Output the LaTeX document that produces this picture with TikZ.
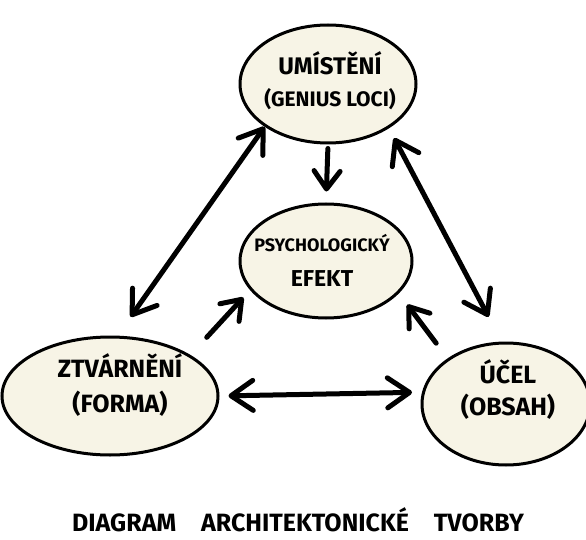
\documentclass[tikz,border=0pt]{standalone}
\usepackage{fontspec}
\setmainfont{Fira Sans}
\usetikzlibrary{arrows.meta,shapes.geometric}
\definecolor{cream}{RGB}{247,244,230}

\begin{document}
\begin{tikzpicture}[x=1pt,y=-1pt,
		blob/.style={ellipse, draw, line width=3pt, fill=cream, inner sep=0pt},
		lbl/.style={align=center, font=\bfseries\fontsize{21}{32}\selectfont},
		both/.style={line width=5pt, line cap=round,
			{Straight Barb[length=22pt,width=30pt,round]}-{Straight Barb[length=22pt,width=30pt,round]}},
		one/.style={line width=5pt, line cap=round, -{Straight Barb[length=18pt,width=26pt,round]}}]
		\fill[white] (0,0) rectangle (586,540);
		\useasboundingbox (0,0) rectangle (586,540);
		% ellipses
		\node[blob, minimum width=176pt, minimum height=118pt] (umisteni) at (328,84) {};
		\node[blob, minimum width=172pt, minimum height=114pt] (psych) at (326,261) {};
		\node[blob, minimum width=216pt, minimum height=118pt] (forma) at (110,396) {};
		\node[blob, minimum width=168pt, minimum height=122pt] (ucel) at (506,404) {};
		\node[lbl] (umisteniT) at (330,81) {{\fontsize{24}{32}\selectfont UMÍSTĚNÍ}\\(GENIUS LOCI)};
		\node[lbl, font=\bfseries\fontsize{18}{35}\selectfont] (psychT) at (322,260)
			{PSYCHOLOGICKÝ\\{\fontsize{23}{35}\selectfont EFEKT}};
		\node[lbl, font=\bfseries\fontsize{25}{35}\selectfont] (formaT) at (120,385) {ZTVÁRNĚNÍ\\(FORMA)};
		\node[lbl, font=\bfseries\fontsize{25}{32}\selectfont] (ucelT) at (508,390) {ÚČEL\\(OBSAH)};
		\node[lbl, font=\bfseries\fontsize{25}{28}\selectfont] (caption) at (298,520)
			{DIAGRAM\quad ARCHITEKTONICKÉ\quad TVORBY};
		% arrows
		\def\myBoth{umisteni.214/forma.83/0/23, umisteni.324/ucel.94/11/28, forma.0/ucel.172/9/10}
		\def\myOne{umisteni.270/psych.90/4/11, forma.27/psych.201/24/10, ucel.142/psych.336/19/14}
		\foreach \from/\to/\s/\e in \myBoth
		\draw[both, shorten <=\s pt, shorten >=\e pt] (\from) -- (\to);
		\foreach \from/\to/\s/\e in \myOne
		\draw[one, shorten <=\s pt, shorten >=\e pt] (\from) -- (\to);
	\end{tikzpicture}
\end{document}
